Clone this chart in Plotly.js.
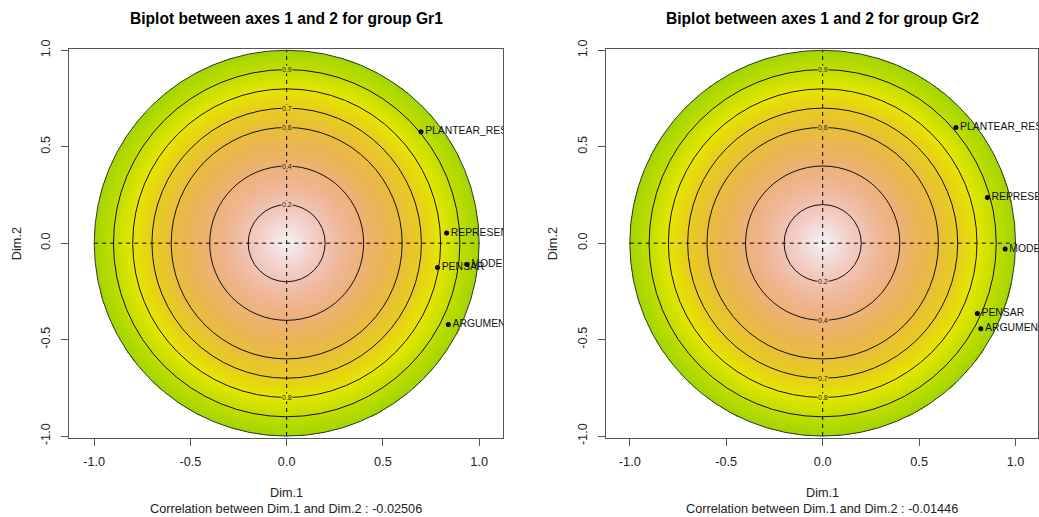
<!DOCTYPE html>
<html>
<head>
<meta charset="utf-8">
<script src="https://cdn.plot.ly/plotly-3.0.1.min.js"></script>
<style>html,body{margin:0;padding:0;background:#fff}#chart{width:1039px;height:517px}</style>
</head>
<body>
<div id="chart"></div>
<script>
// ---- data ----
const groups = ["Gr1", "Gr2"];
const correlations = ["-0.02506", "-0.01446"];

const gr1Vars = ["PLANTEAR_RESOLVER", "REPRESENTAR", "MODELAR", "PENSAR", "ARGUMENTAR"];
const gr1Dim1 = [0.698, 0.831, 0.938, 0.784, 0.840];
const gr1Dim2 = [0.577, 0.053, -0.110, -0.126, -0.421];

const gr2Vars = ["PLANTEAR_RESOLVER", "REPRESENTAR", "MODELAR", "PENSAR", "ARGUMENTAR"];
const gr2Dim1 = [0.691, 0.854, 0.946, 0.802, 0.820];
const gr2Dim2 = [0.599, 0.237, -0.030, -0.364, -0.444];

const contourLevels = [0.2, 0.4, 0.6, 0.7, 0.8, 0.9];
// which contour levels carry a label, and on which side (+1 top, -1 bottom)
const gr1LabelLevels = [0.9, 0.7, 0.6, 0.4, 0.2, 0.8];
const gr1LabelSides  = [1, 1, 1, 1, 1, -1];
const gr2LabelLevels = [0.9, 0.6, 0.2, 0.4, 0.7, 0.8];
const gr2LabelSides  = [1, 1, -1, -1, -1, -1];

const tickVals = [-1, -0.5, 0, 0.5, 1];
const tickText = ["-1.0", "-0.5", "0.0", "0.5", "1.0"];

// ---- terrain-like colour ramp (green -> yellow -> tan -> white) ----
function hsv2rgb(h, s, v) {
  const i = Math.floor(h * 6) % 6, f = h * 6 - Math.floor(h * 6);
  const p = v * (1 - s), q = v * (1 - f * s), t = v * (1 - (1 - f) * s);
  const m = [[v,t,p],[q,v,p],[p,v,t],[p,q,v],[t,p,v],[v,p,q]][i];
  return 'rgb(' + m.map(c => Math.round(c * 255)).join(',') + ')';
}
function terrain(p) { // p: 0 green end, 1 white end
  if (p <= 0.5) { const q = p / 0.5; return hsv2rgb(4/12 - q * 2/12, 1, 0.65 + q * 0.25); }
  const q = (p - 0.5) / 0.5; return hsv2rgb(2/12 * (1 - q), 1 - q, 0.9 + 0.06 * q);
}
const ZMAX = 1.6;
const colorscale = [];
for (let k = 0; k <= 40; k++) { const f = k / 40; colorscale.push([f, terrain(1 - f)]); }

// background field: distance from the origin inside the unit circle
const grid = [];
for (let k = 0; k <= 400; k++) grid.push(-1 + k * 0.005);
const field = grid.map(y => grid.map(x => { const r = Math.hypot(x, y); return r <= 1.0 ? r : null; }));

const FONT = "Liberation Sans, Arial, Helvetica, sans-serif";
const traces = [];
const shapes = [];
const annotations = [];
const H = 517;

[[gr1Vars, gr1Dim1, gr1Dim2, gr1LabelLevels, gr1LabelSides],
 [gr2Vars, gr2Dim1, gr2Dim2, gr2LabelLevels, gr2LabelSides]].forEach((g, gi) => {
  const xa = gi === 0 ? 'x' : 'x2', ya = gi === 0 ? 'y' : 'y2';
  const xd = gi === 0 ? 'x domain' : 'x2 domain', yd = gi === 0 ? 'y domain' : 'y2 domain';
  traces.push({type: 'heatmap', x: grid, y: grid, z: field, xaxis: xa, yaxis: ya,
    colorscale: colorscale, zmin: 0, zmax: ZMAX, showscale: false, hoverinfo: 'skip', zsmooth: false});
  traces.push({type: 'scatter', mode: 'markers+text', x: g[1], y: g[2], text: g[0],
    xaxis: xa, yaxis: ya, textposition: 'middle right', cliponaxis: true,
    marker: {color: '#000', size: 5}, textfont: {family: FONT, size: 10.4, color: '#111'}, hoverinfo: 'skip'});
  contourLevels.forEach(l => shapes.push({type: 'circle', xref: xa, yref: ya, x0: -l, y0: -l, x1: l, y1: l,
    line: {color: '#111', width: 1}, layer: 'above'}));
  shapes.push({type: 'circle', xref: xa, yref: ya, x0: -1, y0: -1, x1: 1, y1: 1, line: {color: '#333', width: 1}});
  shapes.push({type: 'line', xref: xa, yref: ya, x0: -1, x1: 1, y0: 0, y1: 0, line: {color: '#000', width: 1, dash: '4px,4px'}});
  shapes.push({type: 'line', xref: xa, yref: ya, x0: 0, x1: 0, y0: -1, y1: 1, line: {color: '#000', width: 1, dash: '4px,4px'}});
  g[3].forEach((l, k) => annotations.push({xref: xa, yref: ya, x: 0, y: l * g[4][k], text: String(l),
    showarrow: false, font: {family: FONT, size: 7, color: '#222'}, bgcolor: terrain(1 - l / ZMAX), borderpad: 0}));
  annotations.push({xref: xd, x: 0.5, yref: 'paper', y: 1 - 18 / H, yanchor: 'middle', showarrow: false,
    text: '<b>Biplot between axes 1 and 2 for group ' + groups[gi] + '</b>', font: {family: FONT, size: 15.6, color: '#000'}});
  annotations.push({xref: xd, x: 0.5, yref: 'paper', y: 1 - 493 / H, yanchor: 'middle', showarrow: false,
    text: 'Dim.1', font: {family: FONT, size: 12.7, color: '#222'}});
  annotations.push({xref: xd, x: 0.5, yref: 'paper', y: 1 - 509 / H, yanchor: 'middle', showarrow: false,
    text: 'Correlation between Dim.1 and Dim.2 : ' + correlations[gi], font: {family: FONT, size: 12.7, color: '#222'}});
  annotations.push({xref: 'paper', x: (gi === 0 ? 16.5 : 552.5) / 1039, xanchor: 'center', yref: yd, y: 0.5,
    showarrow: false, textangle: -90, text: 'Dim.2', font: {family: FONT, size: 12.7, color: '#222'}});
});

function xaxis(domain, range, anchor) {
  return {domain: domain, range: range, anchor: anchor, tickvals: tickVals, ticktext: tickText,
    ticks: 'outside', ticklen: 7, tickcolor: '#555', showline: true, mirror: true, linecolor: '#555', linewidth: 1,
    showgrid: false, zeroline: false, tickfont: {family: FONT, size: 12.7, color: '#222'}, ticklabelstandoff: 5, fixedrange: true};
}
function yaxis(anchor) {
  return {domain: [1 - 438 / H, 1 - 49.3 / H], range: [-1.01, 1.005], anchor: anchor, tickvals: tickVals, ticktext: tickText,
    tickangle: -90, ticks: 'outside', ticklen: 7, tickcolor: '#555', showline: true, mirror: true, linecolor: '#555', linewidth: 1,
    showgrid: false, zeroline: false, tickfont: {family: FONT, size: 12.7, color: '#222'}, ticklabelstandoff: 6, fixedrange: true};
}

const layout = {
  width: 1039, height: 517, margin: {l: 0, r: 0, t: 0, b: 0},
  paper_bgcolor: '#fff', plot_bgcolor: '#fff', showlegend: false,
  xaxis: xaxis([69 / 1039, 503 / 1039], [-1.131, 1.124], 'y'),
  yaxis: yaxis('x'),
  xaxis2: xaxis([605.7 / 1039, 1038.3 / 1039], [-1.125, 1.118], 'y2'),
  yaxis2: yaxis('x2'),
  shapes: shapes, annotations: annotations
};
Plotly.newPlot('chart', traces, layout, {staticPlot: true, displayModeBar: false});
</script>
</body>
</html>
